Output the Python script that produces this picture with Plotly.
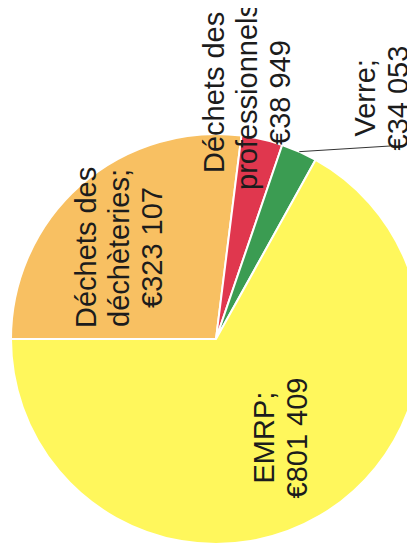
import math
import plotly.graph_objects as go

# ---- data ----
categories = ["Déchets des déchèteries", "Déchets des professionnels", "Verre", "EMRP"]
values = [323107, 38949, 34053, 801409]
colors = ["#F8C062", "#E0374E", "#3B9C52", "#FFF75C"]

# ---- layout constants ----
W, H = 415, 556
OFF = 8  # page body margin in the browser
PIE_LEFT, PIE_TOP, PIE_SIZE = 11 - OFF, 134 - OFF, 410
ROTATION = -90  # first slice starts at 9 o'clock, clockwise
FONT = dict(family="Liberation Sans, Arial, sans-serif", size=29, color="#1c1c1c")
LINE_SP = 33

R = PIE_SIZE / 2
CX = PIE_LEFT + R
CY = PIE_TOP + R

# label centre offsets (pixels, relative to pie centre)
label_offsets = [(-97, -91), (31, -246), (165, -241), (64, 99)]


def px2paper(x, y):
    return x / W, 1 - y / H


def label_lines(cat, val):
    parts = cat.rsplit(" ", 1) if len(cat) > 12 else [cat]
    parts[-1] = parts[-1] + ";"
    return parts + ["€" + f"{val:,}".replace(",", " ")]


fig = go.Figure(
    go.Pie(
        labels=categories,
        values=values,
        sort=False,
        direction="clockwise",
        rotation=ROTATION,
        marker=dict(colors=colors, line=dict(color="white", width=2)),
        textinfo="none",
        hoverinfo="label+value",
        showlegend=False,
        domain=dict(
            x=[PIE_LEFT / W, min(1.0, (PIE_LEFT + PIE_SIZE) / W)],
            y=[1 - (PIE_TOP + PIE_SIZE) / H, 1 - PIE_TOP / H],
        ),
    )
)

annotations = []
for cat, val, (dx, dy) in zip(categories, values, label_offsets):
    lines = label_lines(cat, val)
    n = len(lines)
    for i, ln in enumerate(lines):
        x, y = px2paper(CX + dx + (i - (n - 1) / 2) * LINE_SP, CY + dy)
        annotations.append(
            dict(
                x=x, y=y, xref="paper", yref="paper", text=ln, showarrow=False,
                textangle=-90, xanchor="center", yanchor="middle", font=FONT,
            )
        )

# leader line for the "Verre" slice
total = sum(values)
start = ROTATION
mids = []
for v in values:
    ang = 360 * v / total
    mids.append(start + ang / 2)
    start += ang
gi = categories.index("Verre")
a = math.radians(mids[gi])
x0, y0 = CX + R * math.sin(a), CY - R * math.cos(a)
ldx, ldy = label_offsets[gi]
x1, y1 = CX + ldx + 9, CY + ldy + 48
p0 = px2paper(x0, y0)
p1 = px2paper(x1, y1)

fig.update_layout(
    width=W,
    height=H,
    margin=dict(l=0, r=0, t=0, b=0),
    paper_bgcolor="white",
    plot_bgcolor="white",
    annotations=annotations,
    shapes=[
        dict(type="line", xref="paper", yref="paper", x0=p0[0], y0=p0[1],
             x1=p1[0], y1=p1[1], line=dict(color="#333333", width=1))
    ],
)

fig.write_html("out.html")
